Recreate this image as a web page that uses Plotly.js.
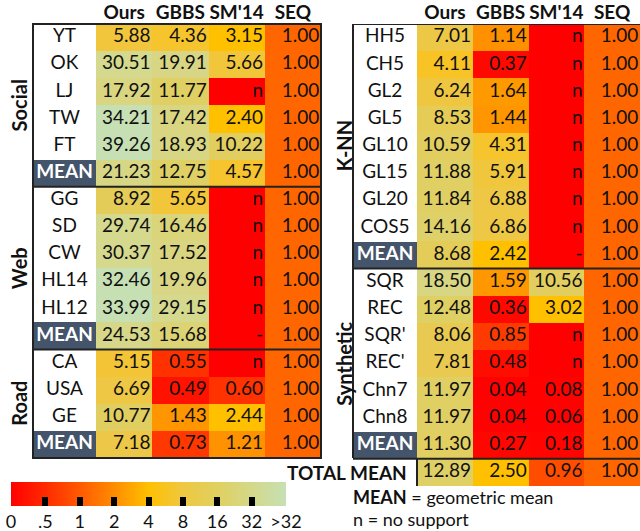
<!DOCTYPE html>
<html><head><meta charset="utf-8">
<script src="https://cdn.plot.ly/plotly-3.0.1.min.js"></script>
<style>html,body{margin:0;padding:0;background:#fff}#chart{width:640px;height:531px}</style>
</head><body><div id="chart"></div>
<script>
// ---------- data ----------
const methods = ["Ours", "GBBS", "SM'14", "SEQ"];

const leftGroupNames = ["Social", "Web", "Road"];
const leftGroupSizes = [6, 6, 4];
const leftRows = ["YT","OK","LJ","TW","FT","MEAN","GG","SD","CW","HL14","HL12","MEAN","CA","USA","GE","MEAN"];
const leftOurs = [5.88,30.51,17.92,34.21,39.26,21.23,8.92,29.74,30.37,32.46,33.99,24.53,5.15,6.69,10.77,7.18];
const leftGBBS = [4.36,19.91,11.77,17.42,18.93,12.75,5.65,16.46,17.52,19.96,29.15,15.68,0.55,0.49,1.43,0.73];
const leftSM14 = [3.15,5.66,"n",2.40,10.22,4.57,"n","n","n","n","n","-","n",0.60,2.44,1.21];
const leftSEQ  = [1.00,1.00,1.00,1.00,1.00,1.00,1.00,1.00,1.00,1.00,1.00,1.00,1.00,1.00,1.00,1.00];

const rightGroupNames = ["K-NN", "Synthetic"];
const rightGroupSizes = [9, 7];
const rightRows = ["HH5","CH5","GL2","GL5","GL10","GL15","GL20","COS5","MEAN","SQR","REC","SQR'","REC'","Chn7","Chn8","MEAN"];
const rightOurs = [7.01,4.11,6.24,8.53,10.59,11.88,11.84,14.16,8.68,18.50,12.48,8.06,7.81,11.97,11.97,11.30];
const rightGBBS = [1.14,0.37,1.64,1.44,4.31,5.91,6.88,6.86,2.42,1.59,0.36,0.85,0.48,0.04,0.04,0.27];
const rightSM14 = ["n","n","n","n","n","n","n","n","-",10.56,3.02,"n","n",0.08,0.06,0.18];
const rightSEQ  = [1.00,1.00,1.00,1.00,1.00,1.00,1.00,1.00,1.00,1.00,1.00,1.00,1.00,1.00,1.00,1.00];

const totalLabel = "TOTAL MEAN";
const totalMean = [12.89, 2.50, 0.96, 1.00];

const scaleTickText = ["0", ".5", "1", "2", "4", "8", "16", "32", ">32"];

// ---------- helpers ----------
const W = 640, H = 531;
const fx = p => p / W;
const fy = p => 1 - p / H;
const FONT = "Lato, 'Open Sans', sans-serif";

function level(v) {           // position on the 0 .5 1 2 4 8 16 32 >32 scale
  if (typeof v !== "number") return 0;
  if (v > 32) return 8;
  if (v < 0.5) return v * 2;
  return Math.log2(v) + 2;
}
function fmt(v) { return typeof v === "number" ? v.toFixed(2) : v; }

const cellScale = [
  [0, "#FF0000"], [0.95/8, "#FF0A00"], [1.1/8, "#FF3000"], [1.9/8, "#FF3C00"],
  [2.0/8, "#FF6600"], [2.12/8, "#FF9000"], [2.9/8, "#FF9C00"], [3.2/8, "#FFC000"],
  [3.7/8, "#FFC000"], [4.1/8, "#F6C42C"], [4.6/8, "#F0C63E"], [4.9/8, "#ECC84A"],
  [5.1/8, "#E4CC58"], [5.8/8, "#DED168"], [6.1/8, "#D9D580"], [6.95/8, "#D4D98E"],
  [7.0/8, "#C6E0B4"], [1, "#C6E0B4"]
];
const barScale = [
  [0, "#FF0000"], [1/8, "#FF2A00"], [2/8, "#FF5A00"], [3/8, "#FF8C00"],
  [4/8, "#FFC000"], [5/8, "#EEC840"], [6/8, "#E0D060"], [7/8, "#D4D88A"], [1, "#C6E0B4"]
];

const leftCols = [leftOurs, leftGBBS, leftSM14, leftSEQ];
const rightColsAll = [rightOurs.concat([totalMean[0]]), rightGBBS.concat([totalMean[1]]),
                      rightSM14.concat([totalMean[2]]), rightSEQ.concat([totalMean[3]])];

function dataTraces(cols, nRows, xa, ya) {
  const z = [], tx = [], ty = [], tt = [];
  for (let i = 0; i < nRows; i++) {
    const row = [];
    for (let j = 0; j < cols.length; j++) {
      row.push(level(cols[j][i]));
      tx.push(j + 0.47); ty.push(i); tt.push(fmt(cols[j][i]));
    }
    z.push(row);
  }
  return [
    {type: "heatmap", z: z, x: [0,1,2,3], y: [...Array(nRows).keys()], xaxis: xa, yaxis: ya,
     colorscale: cellScale, zmin: 0, zmax: 8, showscale: false, hoverinfo: "skip"},
    {type: "scatter", mode: "text", x: tx, y: ty, text: tt, textposition: "middle left",
     xaxis: xa, yaxis: ya, cliponaxis: false, hoverinfo: "skip",
     textfont: {family: FONT, size: 19, color: "#111"}}
  ];
}
function labelTraces(rows, xa, ya) {
  return [
    {type: "heatmap", z: rows.map(r => [r === "MEAN" ? 1 : 0]), x: [0], y: rows.map((r, i) => i),
     xaxis: xa, yaxis: ya, colorscale: [[0, "#FFFFFF"], [1, "#44546A"]], zmin: 0, zmax: 1,
     showscale: false, hoverinfo: "skip"},
    {type: "scatter", mode: "text", x: rows.map(() => 0), y: rows.map((r, i) => i),
     text: rows.map(r => r === "MEAN" ? "<b>MEAN</b>" : r), textposition: "middle center",
     xaxis: xa, yaxis: ya, cliponaxis: false, hoverinfo: "skip",
     textfont: {family: FONT, size: 19, color: rows.map(r => r === "MEAN" ? "#FFFFFF" : "#111")}}
  ];
}

const traces = [
  ...labelTraces(leftRows, "x", "y"),
  ...dataTraces(leftCols, leftRows.length, "x2", "y"),
  ...labelTraces(rightRows, "x3", "y2"),
  ...dataTraces(rightColsAll, rightRows.length + 1, "x4", "y2"),
  {type: "heatmap", z: [[0, 8]], x: [0, 1], y: [0], xaxis: "x5", yaxis: "y5",
   colorscale: barScale, zmin: 0, zmax: 8, showscale: true, hoverinfo: "skip",
   colorbar: {orientation: "h", x: fx(11), xanchor: "left", y: fy(482), yanchor: "top",
     len: 275, lenmode: "pixels", thickness: 24, thicknessmode: "pixels",
     xpad: 0, ypad: 0, outlinewidth: 0, ticks: "inside", ticklen: 9, tickwidth: 6,
     tickcolor: "#000", tickvals: [0,1,2,3,4,5,6,7,8], ticktext: scaleTickText,
     tickfont: {family: FONT, size: 18, color: "#111"}}}
];

const hidden = {visible: false, showgrid: false, zeroline: false, fixedrange: true};
const header = {showgrid: false, zeroline: false, showline: false, ticks: "", side: "top",
  tickvals: [0,1,2,3], ticktext: methods, range: [-0.5, 3.5], fixedrange: true,
  tickfont: {family: FONT, size: 19, color: "#111", weight: 700}};

// group labels and notes
const annotations = [];
function groupAnn(names, sizes, xpx, yref) {
  let start = 0;
  names.forEach((n, k) => {
    annotations.push({text: "<b>" + n + "</b>", x: fx(xpx), xref: "paper", xanchor: "center",
      y: start + (sizes[k] - 1) / 2, yref: yref, yanchor: "middle", textangle: -90, showarrow: false,
      font: {family: FONT, size: 20, color: "#111"}});
    start += sizes[k];
  });
}
groupAnn(leftGroupNames, leftGroupSizes, 19, "y");
groupAnn(rightGroupNames, rightGroupSizes, 344, "y2");
annotations.push({text: "<b>" + totalLabel + "</b>", x: fx(409), xref: "paper", xanchor: "right",
  y: rightRows.length, yref: "y2", yanchor: "middle", showarrow: false,
  font: {family: FONT, size: 19, color: "#111"}});
annotations.push({text: "<b>MEAN</b> = geometric mean", x: fx(351), xref: "paper", xanchor: "left",
  y: fy(497), yref: "paper", yanchor: "middle", showarrow: false, font: {family: FONT, size: 18, color: "#111"}});
annotations.push({text: "n = no support", x: fx(351), xref: "paper", xanchor: "left",
  y: fy(519), yref: "paper", yanchor: "middle", showarrow: false, font: {family: FONT, size: 18, color: "#111"}});

// borders
const LC = "#222", LW = 2;
const shapes = [];
function hline(x0, x1, y, yref) { shapes.push({type: "line", xref: "paper", yref: yref, x0: fx(x0), x1: fx(x1), y0: y, y1: y, line: {color: LC, width: LW}}); }
function vline(x, y0, y1) { shapes.push({type: "line", xref: "paper", yref: "paper", x0: fx(x), x1: fx(x), y0: fy(y0), y1: fy(y1), line: {color: LC, width: LW}}); }
// left table
shapes.push({type: "rect", xref: "paper", yref: "paper", x0: fx(33), x1: fx(321), y0: fy(458), y1: fy(24), line: {color: LC, width: LW}});
{ let s = 0; leftGroupSizes.slice(0, -1).forEach(n => { s += n; hline(33, 321, s - 0.5, "y"); }); }
// right table
hline(353, 641, -0.5, "y2");
hline(353, 641, rightRows.length - 0.5, "y2");
vline(353, 24, 458);
{ let s = 0; rightGroupSizes.slice(0, -1).forEach(n => { s += n; hline(353, 641, s - 0.5, "y2"); }); }
vline(417, 458, 486);

const layout = {
  width: W, height: H, margin: {l: 0, r: 0, t: 0, b: 0, pad: 0, autoexpand: false},
  paper_bgcolor: "#fff", plot_bgcolor: "rgba(0,0,0,0)", showlegend: false,
  xaxis:  Object.assign({}, hidden, {domain: [fx(33), fx(96)], range: [-0.5, 0.5], anchor: "y"}),
  xaxis2: Object.assign({}, header, {domain: [fx(96), fx(321)], anchor: "y"}),
  yaxis:  Object.assign({}, hidden, {domain: [fy(458), fy(24)], range: [leftRows.length - 0.5, -0.5], anchor: "x"}),
  xaxis3: Object.assign({}, hidden, {domain: [fx(353), fx(417)], range: [-0.5, 0.5], anchor: "y2"}),
  xaxis4: Object.assign({}, header, {domain: [fx(417), fx(640)], anchor: "y2"}),
  yaxis2: Object.assign({}, hidden, {domain: [fy(486), fy(24)], range: [rightRows.length + 0.5, -0.5], anchor: "x3"}),
  xaxis5: Object.assign({}, hidden, {domain: [0, 0.01], range: [10, 11], anchor: "y5"}),
  yaxis5: Object.assign({}, hidden, {domain: [0, 0.01], range: [10, 11], anchor: "x5"}),
  annotations: annotations, shapes: shapes
};
Plotly.newPlot("chart", traces, layout, {staticPlot: true, displayModeBar: false});
</script></body></html>
